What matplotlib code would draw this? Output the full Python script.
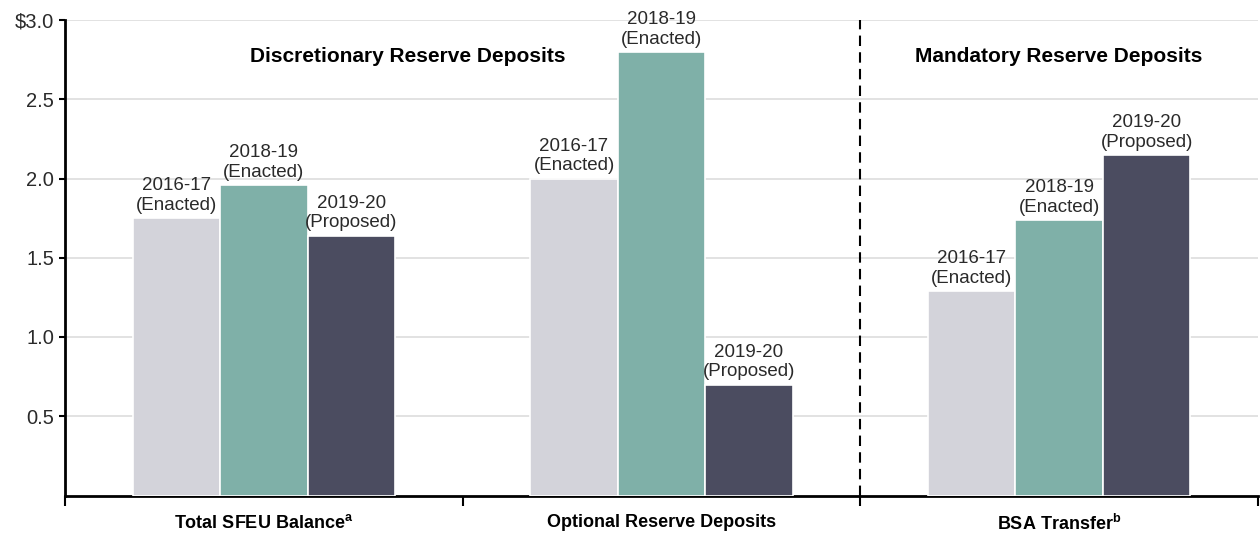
import numpy as np
import matplotlib.pyplot as plt

plt.rcParams['font.family'] = ['Liberation Sans', 'DejaVu Sans']
plt.rcParams['mathtext.fontset'] = 'custom'
plt.rcParams['mathtext.rm'] = 'Liberation Sans'
plt.rcParams['mathtext.bf'] = 'Liberation Sans:bold'

# data (billions)
categories = [r'Total SFEU Balance$^\mathbf{a}$', 'Optional Reserve Deposits',
              r'BSA Transfer$^\mathbf{b}$']
series = ['2016-17\n(Enacted)', '2018-19\n(Enacted)', '2019-20\n(Proposed)']
v_1617 = [1.75, 2.0, 1.29]
v_1819 = [1.96, 2.8, 1.74]
v_1920 = [1.64, 0.7, 2.15]
values = [v_1617, v_1819, v_1920]
colors = ['#D3D3DA', '#7FB0A8', '#4B4C60']
yticks = [0.5, 1.0, 1.5, 2.0, 2.5, 3.0]
ytick_labels = ['0.5', '1.0', '1.5', '2.0', '2.5', '$3.0']

fig = plt.figure(figsize=(12.6, 5.33), dpi=100)
ax = fig.add_axes([65/1260, 1 - 495.5/533, 1193/1260, (495.5 - 20)/533])

x = np.arange(len(categories))
w = 0.22
for i, (lab, vals, c) in enumerate(zip(series, values, colors)):
    xs = x + (i - 1) * w
    ax.bar(xs, vals, w, color=c, edgecolor='white', linewidth=1.2, zorder=3)
    for xi, v in zip(xs, vals):
        ax.annotate(lab, (xi, v), xytext=(0, 3), textcoords='offset points',
                    ha='center', va='bottom', fontsize=13.5, color='#2a2a2a',
                    linespacing=1.2, zorder=4)

ax.set_xlim(-0.5, 2.5)
ax.set_ylim(0, 3.0)
ax.set_yticks(yticks)
ax.set_yticklabels(ytick_labels, fontsize=14.5, color='#2a2a2a')
ax.yaxis.grid(True, color='#DDDDDD', linewidth=1.2, zorder=0)
ax.set_axisbelow(True)

ax.set_xticks(x)
ax.set_xticklabels(categories, fontsize=13, fontweight='bold')
ax.tick_params(axis='x', which='major', length=0, pad=13)
ax.set_xticks([-0.5, 0.5, 1.5, 2.5], minor=True)
ax.tick_params(axis='x', which='minor', length=7, width=1.5, direction='out')
ax.tick_params(axis='y', length=4, width=1.5, pad=4)

for s in ['top', 'right']:
    ax.spines[s].set_visible(False)
for s in ['left', 'bottom']:
    ax.spines[s].set_linewidth(2)

ax.axvline(1.5, color='black', linestyle=(0, (5, 3)), linewidth=1.5, zorder=5)

ax.text(0.362, 2.77, 'Discretionary Reserve Deposits', ha='center', va='center',
        fontsize=15, fontweight='bold')
ax.text(2.0, 2.77, 'Mandatory Reserve Deposits', ha='center', va='center',
        fontsize=15, fontweight='bold')

fig.savefig('out.png', dpi=100)
